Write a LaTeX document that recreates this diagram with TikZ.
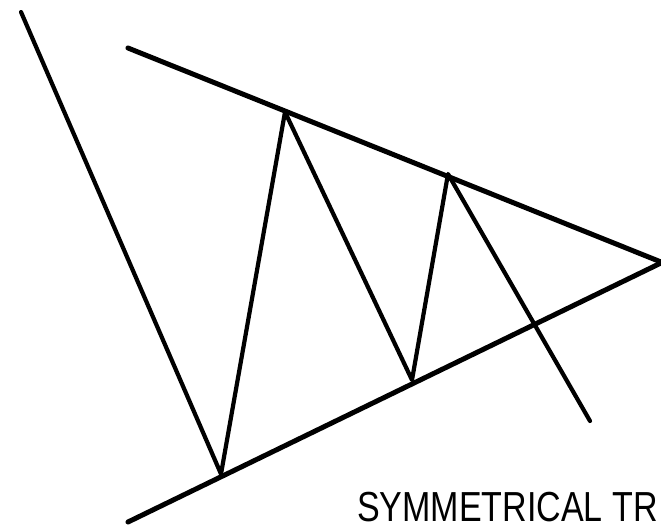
\documentclass[tikz,border=0pt]{standalone}
\usepackage{fontspec}
\setmainfont{Liberation Sans}
\begin{document}
\begin{tikzpicture}[x=1pt,y=-1pt,
  trend/.style={line width=5pt,line cap=round,line join=round},
  wave/.style={line width=4.2pt,line cap=round,line join=round},
  lbl/.style={inner sep=0pt,anchor=base west,font=\fontsize{42}{42}\selectfont,xscale=0.81}]
\useasboundingbox (0,0) rectangle (661,532);
\clip (0,0) rectangle (661,532);
\coordinate (L0) at (21,12);
\coordinate (U0) at (128,48);
\coordinate (U1) at (661,262);
\coordinate (D0) at (128,522);
\coordinate (D1) at (663,262);
\coordinate (A) at (221,474);
\coordinate (B) at (285,112);
\coordinate (C) at (412,380);
\coordinate (D) at (448,174);
\coordinate (E) at (590,421);
\draw[wave] (L0) -- (A);
\draw[trend] (U0) -- (U1);
\draw[trend] (D0) -- (D1);
\draw[wave] (A) -- (B) -- (C) -- (D) -- (E);
\node[lbl] (t) at (357,521) {SYMMETRICAL TR};
\end{tikzpicture}
\end{document}
